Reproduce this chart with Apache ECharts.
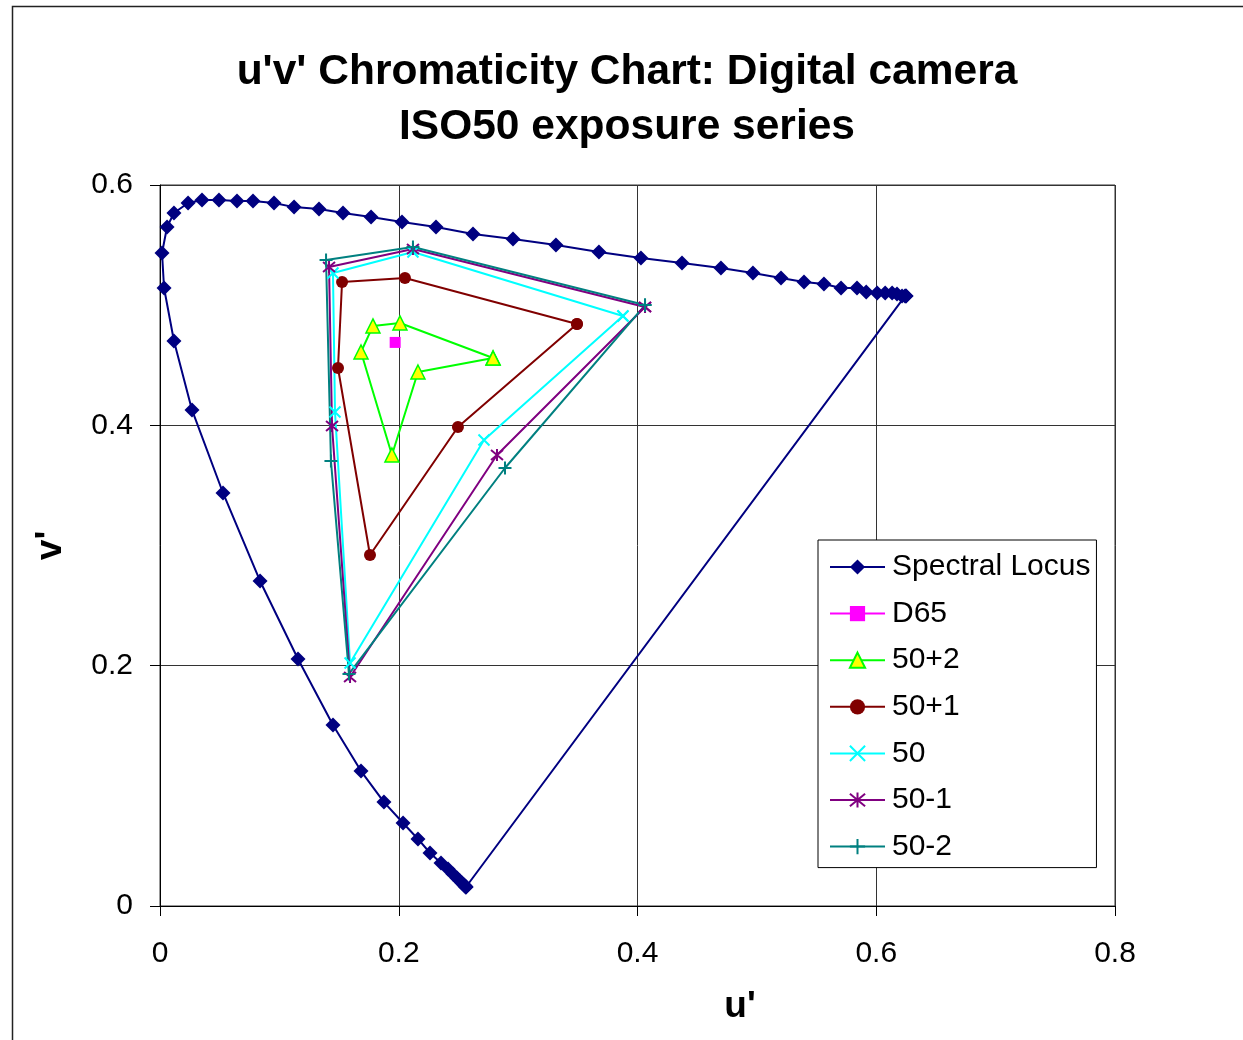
<!DOCTYPE html>
<html>
<head>
<meta charset="utf-8">
<script src="https://cdn.jsdelivr.net/npm/echarts@6/dist/echarts.min.js"></script>
<style>
  html, body { margin: 0; padding: 0; background: #fff; }
  #chart { width: 1243px; height: 1040px; }
</style>
</head>
<body>
<div id="chart"></div>
<script>
// CIE 1976 spectral locus (u', v'), violet end first, red end last
const locusU = [0.2563, 0.2563, 0.2555, 0.2555, 0.2547, 0.2530, 0.2513, 0.2488, 0.2454, 0.2413,
  0.2354, 0.2262, 0.2161, 0.2036, 0.1876, 0.1684, 0.1449, 0.1156, 0.0838, 0.0528,
  0.0268, 0.0117, 0.0034, 0.0017, 0.0059, 0.0117, 0.0235, 0.0352, 0.0494, 0.0645,
  0.0779, 0.0955, 0.1123, 0.1332, 0.1533, 0.1768, 0.2027, 0.2312, 0.2622, 0.2957,
  0.3317, 0.3677, 0.4029, 0.4373, 0.4699, 0.4967, 0.5202, 0.5395, 0.5562, 0.5705,
  0.5839, 0.5916, 0.6008, 0.6075, 0.6133, 0.6174, 0.6216, 0.6241, 0.6249, 0.6249];
const locusV = [0.0158, 0.0158, 0.0166, 0.0166, 0.0175, 0.0191, 0.0208, 0.0233, 0.0266, 0.0308,
  0.0358, 0.0441, 0.0558, 0.0691, 0.0865, 0.1123, 0.1506, 0.2055, 0.2705, 0.3437,
  0.4128, 0.4702, 0.5143, 0.5434, 0.5650, 0.5767, 0.5850, 0.5875, 0.5875, 0.5867,
  0.5867, 0.5850, 0.5816, 0.5800, 0.5767, 0.5733, 0.5692, 0.5650, 0.5592, 0.5550,
  0.5500, 0.5442, 0.5393, 0.5351, 0.5309, 0.5268, 0.5226, 0.5193, 0.5176, 0.5143,
  0.5143, 0.5109, 0.5101, 0.5101, 0.5101, 0.5093, 0.5076, 0.5076, 0.5076, 0.5076];

// D65 white point
const d65U = [0.197];
const d65V = [0.469];

// Measured patches per exposure, in hue order R, Y, G, C, B, M
const plus2U = [0.2790, 0.2010, 0.1784, 0.1684, 0.1943, 0.2161];
const plus2V = [0.4560, 0.4852, 0.4827, 0.4610, 0.3753, 0.4444];

const plus1U = [0.3493, 0.2052, 0.1525, 0.1491, 0.1759, 0.2496];
const plus1V = [0.4843, 0.5226, 0.5193, 0.4477, 0.2921, 0.3986];

const zeroU = [0.3878, 0.2119, 0.1449, 0.1466, 0.1592, 0.2714];
const zeroV = [0.4910, 0.5442, 0.5268, 0.4111, 0.2022, 0.3878];

const minus1U = [0.4063, 0.2119, 0.1416, 0.1441, 0.1592, 0.2823];
const minus1V = [0.4985, 0.5467, 0.5318, 0.3994, 0.1906, 0.3753];

const minus2U = [0.4063, 0.2119, 0.1391, 0.1432, 0.1583, 0.2890];
const minus2V = [0.5001, 0.5484, 0.5376, 0.3703, 0.1931, 0.3645];

// Axis ticks
const xTicks = [0, 0.2, 0.4, 0.6, 0.8];
const yTicks = [0, 0.2, 0.4, 0.6];

const FONT = '"Liberation Sans", Arial, Helvetica, sans-serif';

// pair two arrays into points; optionally close the loop
function pts(us, vs, close) {
  const out = us.map((u, i) => [u, vs[i]]);
  if (close) out.push(out[0].slice());
  return out;
}

const SYM_X = 'path://M0,0L10,10M10,0L0,10';
const SYM_STAR = 'path://M0,1L10,11M10,1L0,11M5,0L5,12';
const SYM_PLUS = 'path://M0,5L10,5M5,0L5,10';

function lineSeries(name, data, color, symbol, size, extra) {
  return Object.assign({
    name: name,
    type: 'line',
    data: data,
    symbol: symbol,
    symbolSize: size,
    lineStyle: { color: color, width: 2 },
    itemStyle: { color: color, borderColor: color, borderWidth: 0 },
    emphasis: { disabled: true },
    silent: true,
    z: 2
  }, extra || {});
}

const chart = echarts.init(document.getElementById('chart'), null, { renderer: 'canvas' });

chart.setOption({
  animation: false,
  backgroundColor: '#fff',
  title: {
    text: "u'v' Chromaticity Chart: Digital camera\nISO50 exposure series",
    left: 622,
    textAlign: 'center',
    top: 40,
    textStyle: { fontFamily: FONT, fontSize: 42.5, fontWeight: 'bold', color: '#000', lineHeight: 55 }
  },
  graphic: [{
    type: 'rect',
    shape: { x: 12.5, y: 6.5, width: 1260, height: 1060 },
    style: { fill: 'none', stroke: '#222', lineWidth: 1.5 },
    silent: true,
    z: -1
  }],
  grid: {
    left: 160, top: 185, right: 128, bottom: 134,
    show: true, borderColor: '#333', borderWidth: 1, backgroundColor: '#fff'
  },
  legend: {
    orient: 'vertical',
    left: 818, top: 540,
    padding: [12, 6, 6, 11],
    itemWidth: 55, itemHeight: 19, itemGap: 16.6,
    borderColor: '#000', borderWidth: 1, backgroundColor: '#fff',
    textStyle: { fontFamily: FONT, fontSize: 30, lineHeight: 30, color: '#000', padding: [0, 0, 0, 2] },
    selectedMode: false
  },
  xAxis: {
    type: 'value',
    min: xTicks[0], max: xTicks[xTicks.length - 1], interval: 0.2,
    name: "u'",
    nameLocation: 'middle',
    nameGap: 82,
    nameTextStyle: { fontFamily: FONT, fontSize: 37, fontWeight: 'bold', color: '#000', padding: [0, 0, 0, 205] },
    axisLine: { show: true, onZero: false, lineStyle: { color: '#000', width: 1 } },
    axisTick: { show: true, inside: false, length: 10, lineStyle: { color: '#000' } },
    axisLabel: { fontFamily: FONT, fontSize: 30, color: '#000', margin: 33 },
    splitLine: { show: true, lineStyle: { color: '#333', width: 1 } }
  },
  yAxis: {
    type: 'value',
    min: yTicks[0], max: yTicks[yTicks.length - 1], interval: 0.2,
    name: "v'",
    nameLocation: 'middle',
    nameGap: 91,
    nameRotate: 90,
    nameTextStyle: { fontFamily: FONT, fontSize: 37, fontWeight: 'bold', color: '#000' },
    axisLine: { show: true, onZero: false, lineStyle: { color: '#000', width: 1 } },
    axisTick: { show: true, inside: false, length: 10, lineStyle: { color: '#000' } },
    axisLabel: { fontFamily: FONT, fontSize: 30, color: '#000', margin: 27 },
    splitLine: { show: true, lineStyle: { color: '#333', width: 1 } }
  },
  series: [
    lineSeries('Spectral Locus', pts(locusU, locusV, true), '#000080', 'diamond', 15),
    lineSeries('D65', pts(d65U, d65V, false), '#FF00FF', 'rect', 11),
    lineSeries('50+2', pts(plus2U, plus2V, true), '#00FF00', 'triangle', 14,
      { itemStyle: { color: '#FFFF00', borderColor: '#00FF00', borderWidth: 1.5 } }),
    lineSeries('50+1', pts(plus1U, plus1V, true), '#800000', 'circle', 12),
    lineSeries('50', pts(zeroU, zeroV, true), '#00FFFF', SYM_X, 11,
      { itemStyle: { color: '#00FFFF', borderColor: '#00FFFF', borderWidth: 2 } }),
    lineSeries('50-1', pts(minus1U, minus1V, true), '#800080', SYM_STAR, 12,
      { itemStyle: { color: '#800080', borderColor: '#800080', borderWidth: 2 } }),
    lineSeries('50-2', pts(minus2U, minus2V, true), '#008080', SYM_PLUS, 13,
      { itemStyle: { color: '#008080', borderColor: '#008080', borderWidth: 2 } })
  ]
});
</script>
</body>
</html>
